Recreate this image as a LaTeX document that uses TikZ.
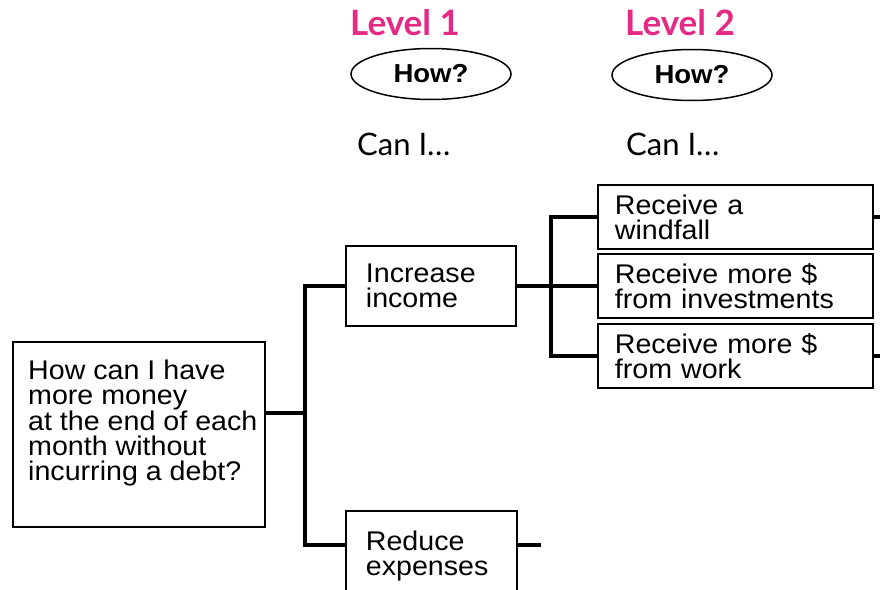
\documentclass[tikz,border=0pt]{standalone}
\usepackage{fontspec}
\usetikzlibrary{shapes.geometric}
\newfontfamily\boxfont[FakeStretch=1.06]{Liberation Sans}
\newfontfamily\headfont{Lato}
\definecolor{levelpink}{RGB}{228,42,132}

\begin{document}
\begin{tikzpicture}[x=1pt,y=-1pt,
  box/.style={draw, line width=1.8pt, rectangle, anchor=north west, inner sep=0pt,
    align=left, font=\boxfont\fontsize{27}{25}\selectfont},
  conn/.style={line width=3.4pt},
  howoval/.style={draw, ellipse, line width=1.5pt, minimum width=160pt, minimum height=51pt,
    inner sep=0pt, font=\boxfont\bfseries\fontsize{26}{26}\selectfont},
  levelhead/.style={anchor=base west, inner sep=0pt, text=levelpink,
    font=\headfont\bfseries\fontsize{35}{35}\selectfont},
  canhead/.style={anchor=base west, inner sep=0pt,
    font=\headfont\fontsize{31}{31}\selectfont}]
\useasboundingbox (0,0) rectangle (880,589);

% column headings
\node[levelhead] (lvA) at (350,35) {Level 1};
\node[levelhead] (lvB) at (625,35) {Level 2};
\node[howoval] (howA) at (431,74) {How?};
\node[howoval] (howB) at (692,75) {How?};
\node[canhead] (canA) at (357,155) {Can I…};
\node[canhead] (canB) at (626,155) {Can I…};

% question box
\node[box, minimum width=252pt, minimum height=185pt] (root) at (12,341) {};
\node[anchor=north west, inner sep=0pt, align=left,
  font=\boxfont\fontsize{27}{25}\selectfont] (rootText) at (28,360)
  {How can I have\\more money\\at the end of each\\month without\\incurring a debt?};

% level 1 boxes
\node[box, minimum width=170pt, minimum height=80pt, text width=130pt] (inc) at (345,245)
  {Increase\\income};
\node[box, minimum width=171pt, minimum height=90pt, text width=131pt] (red) at (345,510)
  {Reduce\\expenses};

% level 2 boxes
\node[box, minimum width=275pt, minimum height=64pt, text width=241pt] (wind) at (597,184)
  {Receive a\\windfall};
\node[box, minimum width=275pt, minimum height=64pt, text width=241pt] (inv) at (597,253)
  {Receive more \$\\from investments};
\node[box, minimum width=275pt, minimum height=64pt, text width=241pt] (work) at (597,323)
  {Receive more \$\\from work};

% junction points of the tree
\coordinate (j0) at (305,413);
\coordinate (j2) at (305,545);
\coordinate (j1) at (551,286);

% level 1 branches
\draw[conn] (root.east |- j0) -- (j0);
\draw[conn] (inc.west) -- (inc.west -| j0) -- (j2) -- (red.west |- j2);
\draw[conn] (red.east |- j2) -- ++(23,0);

% level 2 branches
\draw[conn] (inc.east) -- (inc.east -| j1);
\draw[conn] (wind.west) -- (wind.west -| j1) -- (work.west -| j1) -- (work.west);
\draw[conn] (inv.west) -- (inv.west -| j1);
\draw[conn] (wind.east) -- ++(12,0);
\draw[conn] (work.east) -- ++(12,0);
\end{tikzpicture}
\end{document}
